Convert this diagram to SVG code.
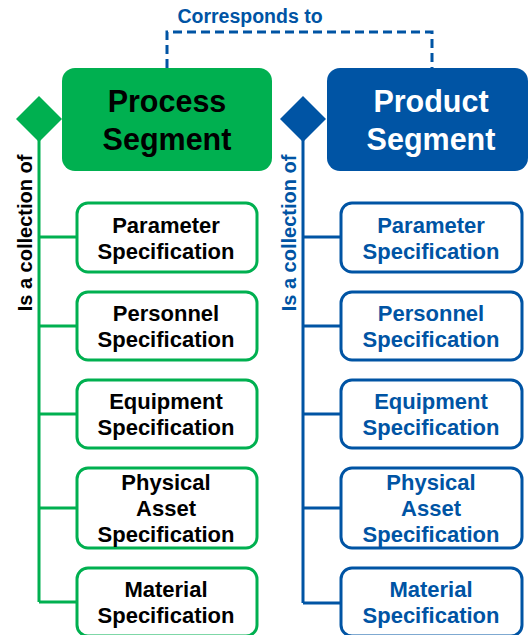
<svg xmlns="http://www.w3.org/2000/svg" width="529" height="635" viewBox="0 0 529 635">
<style>
text{font-family:"Liberation Sans",Arial,sans-serif;font-weight:bold;text-anchor:middle}
.g{stroke:#00b050;fill:none;stroke-width:3}
.b{stroke:#0054a4;fill:none;stroke-width:3}
.gbox{fill:#fff;stroke:#00b050;stroke-width:3}
.bbox{fill:#fff;stroke:#0054a4;stroke-width:3}
.ct{font-size:22px}
.gt{fill:#000}
.bt{fill:#0054a4}
.ht{font-size:30.5px}
.rl{font-size:20px}
</style>
<rect width="529" height="635" fill="#fff"/>
<g id="connectors">
<path class="b" d="M167,68 V32 H432 V68" stroke-dasharray="9,5"/>
<path class="g" d="M39,140 V602 M39,237 H77 M39,326 H77 M39,414 H77 M39,508 H77 M39,602 H77"/>
<path class="b" d="M303,140 V603 M303,237 H341 M303,326 H341 M303,414 H341 M303,508 H341 M303,603 H341"/>
<polygon points="39,96 62,119 39,142 16,119" fill="#00b050"/>
<polygon points="303,96 326,119 303,142 280,119" fill="#0054a4"/>
<text x="250" y="23" font-size="19.5px" fill="#0054a4">Corresponds to</text>
<text transform="translate(32,233) rotate(-90)" class="rl gt">Is a collection of</text>
<text transform="translate(296,233) rotate(-90)" class="rl bt">Is a collection of</text>
</g>
<g id="process-segment">
<rect x="62" y="68" width="210" height="103" rx="13" fill="#00b050"/>
<text x="167" y="112" class="ht gt">Process</text>
<text x="167" y="150" class="ht gt">Segment</text>
</g>
<g id="product-segment">
<rect x="327" y="68" width="201" height="103" rx="13" fill="#0054a4"/>
<text x="431" y="112" class="ht" fill="#fff">Product</text>
<text x="431" y="150" class="ht" fill="#fff">Segment</text>
</g>
<g id="ps-parameter">
<rect x="77" y="203" width="180" height="69" rx="11" class="gbox"/>
<text x="166" y="233" class="ct gt">Parameter</text>
<text x="166" y="259" class="ct gt">Specification</text>
</g>
<g id="ps-personnel">
<rect x="77" y="292" width="180" height="68" rx="11" class="gbox"/>
<text x="166" y="321" class="ct gt">Personnel</text>
<text x="166" y="347" class="ct gt">Specification</text>
</g>
<g id="ps-equipment">
<rect x="77" y="380" width="180" height="68" rx="11" class="gbox"/>
<text x="166" y="409" class="ct gt">Equipment</text>
<text x="166" y="435" class="ct gt">Specification</text>
</g>
<g id="ps-physical-asset">
<rect x="77" y="468" width="180" height="80" rx="11" class="gbox"/>
<text x="166" y="490" class="ct gt">Physical</text>
<text x="166" y="516" class="ct gt">Asset</text>
<text x="166" y="542" class="ct gt">Specification</text>
</g>
<g id="ps-material">
<rect x="77" y="568" width="180" height="68" rx="11" class="gbox"/>
<text x="166" y="597" class="ct gt">Material</text>
<text x="166" y="623" class="ct gt">Specification</text>
</g>
<g id="pd-parameter">
<rect x="341" y="203" width="181" height="69" rx="11" class="bbox"/>
<text x="431" y="233" class="ct bt">Parameter</text>
<text x="431" y="259" class="ct bt">Specification</text>
</g>
<g id="pd-personnel">
<rect x="341" y="292" width="181" height="68" rx="11" class="bbox"/>
<text x="431" y="321" class="ct bt">Personnel</text>
<text x="431" y="347" class="ct bt">Specification</text>
</g>
<g id="pd-equipment">
<rect x="341" y="380" width="181" height="68" rx="11" class="bbox"/>
<text x="431" y="409" class="ct bt">Equipment</text>
<text x="431" y="435" class="ct bt">Specification</text>
</g>
<g id="pd-physical-asset">
<rect x="341" y="468" width="181" height="80" rx="11" class="bbox"/>
<text x="431" y="490" class="ct bt">Physical</text>
<text x="431" y="516" class="ct bt">Asset</text>
<text x="431" y="542" class="ct bt">Specification</text>
</g>
<g id="pd-material">
<rect x="341" y="568" width="181" height="68" rx="11" class="bbox"/>
<text x="431" y="597" class="ct bt">Material</text>
<text x="431" y="623" class="ct bt">Specification</text>
</g>
</svg>
